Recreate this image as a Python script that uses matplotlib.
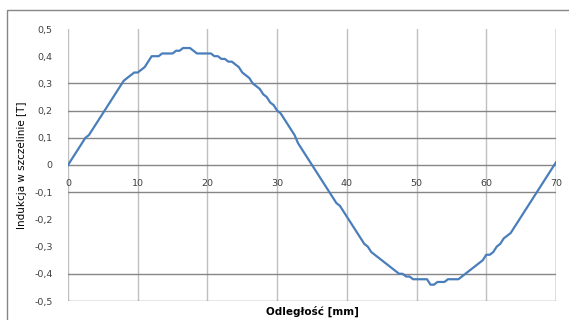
import matplotlib
matplotlib.use("Agg")
import matplotlib.pyplot as plt
from matplotlib.patches import Rectangle
from matplotlib.ticker import FuncFormatter

# ---- data ----
distance_mm = [i * 0.5 for i in range(141)]
induction_T = [
    0.00, 0.02, 0.04, 0.06, 0.08, 0.10, 0.11, 0.13, 0.15, 0.17,
    0.19, 0.21, 0.23, 0.25, 0.27, 0.29, 0.31, 0.32, 0.33, 0.34,
    0.34, 0.35, 0.36, 0.38, 0.40, 0.40, 0.40, 0.41, 0.41, 0.41,
    0.41, 0.42, 0.42, 0.43, 0.43, 0.43, 0.42, 0.41, 0.41, 0.41,
    0.41, 0.41, 0.40, 0.40, 0.39, 0.39, 0.38, 0.38, 0.37, 0.36,
    0.34, 0.33, 0.32, 0.30, 0.29, 0.28, 0.26, 0.25, 0.23, 0.22,
    0.20, 0.19, 0.17, 0.15, 0.13, 0.11, 0.08, 0.06, 0.04, 0.02,
    0.00, -0.02, -0.04, -0.06, -0.08, -0.10, -0.12, -0.14, -0.15, -0.17,
    -0.19, -0.21, -0.23, -0.25, -0.27, -0.29, -0.30, -0.32, -0.33, -0.34,
    -0.35, -0.36, -0.37, -0.38, -0.39, -0.40, -0.40, -0.41, -0.41, -0.42,
    -0.42, -0.42, -0.42, -0.42, -0.44, -0.44, -0.43, -0.43, -0.43, -0.42,
    -0.42, -0.42, -0.42, -0.41, -0.40, -0.39, -0.38, -0.37, -0.36, -0.35,
    -0.33, -0.33, -0.32, -0.30, -0.29, -0.27, -0.26, -0.25, -0.23, -0.21,
    -0.19, -0.17, -0.15, -0.13, -0.11, -0.09, -0.07, -0.05, -0.03, -0.01,
    0.01,
]
x_ticks = [0, 10, 20, 30, 40, 50, 60, 70]
y_ticks = [-0.5, -0.4, -0.3, -0.2, -0.1, 0.0, 0.1, 0.2, 0.3, 0.4, 0.5]
visible_hgrid = [0.3, 0.2, 0.1, 0.0, -0.1, -0.4, -0.5]
x_label = "Odległość [mm]"
y_label = "Indukcja w szczelinie [T]"

W, H = 569, 320
fig = plt.figure(figsize=(W / 100, H / 100), dpi=100)
fig.patch.set_facecolor("white")

# outer chart border
fig.patches.append(Rectangle((7 / W, 1 - 10 / H), 1.2, -1.2, transform=fig.transFigure,
                             fill=False, edgecolor="#868686", linewidth=1.0))

ax = fig.add_axes([68 / W, 1 - 301 / H, (556 - 68) / W, (301 - 29) / H])
ax.set_xlim(0, 70)
ax.set_ylim(-0.5, 0.5)

for s in ax.spines.values():
    s.set_visible(False)

for xv in x_ticks:
    if xv == 70:
        ax.axvline(xv, color="#d9d9d9", linewidth=2.0, zorder=1)
    else:
        ax.axvline(xv, color="#bfbfbf", linewidth=1.0, zorder=1)
for yv in visible_hgrid:
    ax.axhline(yv, color="#868686", linewidth=1.0, zorder=1)

ax.plot(distance_mm, induction_T, color="#4a7ebb", linewidth=1.6, zorder=3,
        solid_joinstyle="round")

ax.set_yticks(y_ticks)
ax.yaxis.set_major_formatter(FuncFormatter(lambda v, p: ("%.1f" % v).replace(".", ",") if abs(v) > 1e-9 else "0"))
ax.tick_params(axis="y", length=0, pad=11, labelsize=6.8, labelcolor="#404040")

ax.spines["bottom"].set_position(("data", 0))
ax.set_xticks(x_ticks)
ax.tick_params(axis="x", length=0, pad=10, labelsize=6.8, labelcolor="#404040")

fig.text(312 / W, 1 - 311 / H, x_label, ha="center", va="center",
         fontsize=7.5, fontweight="bold", color="#000000")
fig.text(22 / W, 1 - 165 / H, y_label, ha="center", va="center", rotation=90,
         fontsize=7.5, color="#000000")

fig.savefig("out.png", dpi=100)
